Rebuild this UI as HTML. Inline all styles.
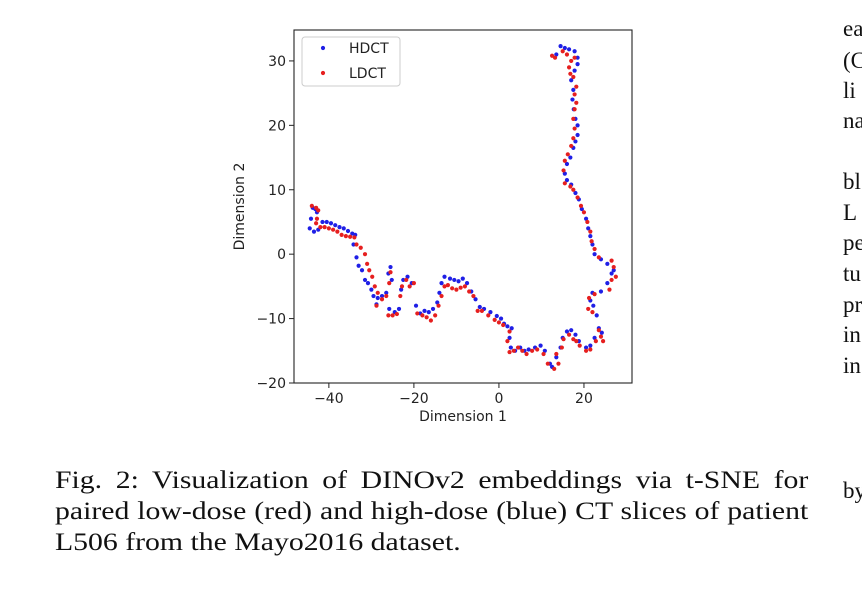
<!DOCTYPE html>
<html><head><meta charset="utf-8"><style>
body{margin:0;background:#fff;width:862px;height:598px;overflow:hidden;position:relative;font-family:"Liberation Serif",serif;}
.cap{position:absolute;left:55px;width:633px;font-size:25px;color:#111;text-align:justify;text-align-last:justify;white-space:nowrap;transform:scaleX(1.19);transform-origin:0 0;}
.cap.last{text-align-last:left;}
.rc{position:absolute;left:843px;font-size:23px;color:#111;white-space:nowrap;}
</style></head><body>
<svg id="chart" width="862" height="598" style="position:absolute;left:0;top:0" font-family="'DejaVu Sans','Liberation Sans',sans-serif"></svg>
<div class="cap" style="top:467px">Fig. 2: Visualization of DINOv2 embeddings via t-SNE for</div>
<div class="cap" style="top:498px">paired low-dose (red) and high-dose (blue) CT slices of patient</div>
<div class="cap last" style="top:529px">L506 from the Mayo2016 dataset.</div>
<div>
<div class="rc" style="top:16px">ea</div><div class="rc" style="top:48px">(C</div><div class="rc" style="top:78px">li</div><div class="rc" style="top:108px">na</div>
<div class="rc" style="top:169px">bl</div><div class="rc" style="top:200px">L</div><div class="rc" style="top:230px">pe</div><div class="rc" style="top:261px">tu</div><div class="rc" style="top:292px">pr</div><div class="rc" style="top:322px">in</div><div class="rc" style="top:353px">in</div><div class="rc" style="top:478px">by</div>
</div>
<script>
const xTicks=[-40,-20,0,20];
const yTicks=[30,20,10,0,-10,-20];
const hdctX=[-44.5,-44.2,-43.8,-43.2,-42.8,-43.5,-42.5,-41.5,-40.5,-39.5,-38.5,-37.5,-36.5,-35.5,-34.5,-33.8,-34.2,-33.5,-33.0,-32.2,-31.5,-30.8,-30.0,-29.5,-28.8,-28.5,-27.5,-26.5,-26.0,-25.5,-25.2,-25.8,-24.5,-23.5,-23.0,-22.5,-21.5,-20.5,-19.5,-18.5,-17.5,-16.5,-15.5,-14.5,-14.0,-13.5,-12.8,-11.5,-10.5,-9.5,-8.5,-7.5,-6.5,-5.5,-4.5,-3.5,-2.0,-0.5,0.5,1.2,2.0,3.0,2.5,2.8,3.8,5.0,6.0,7.0,8.5,9.8,10.8,12.0,12.5,13.5,14.5,15.0,16.0,17.0,18.0,18.8,20.5,21.5,22.5,23.5,24.2,23.0,22.2,21.5,22.0,24.0,25.5,26.5,27.0,25.5,24.0,22.5,22.0,21.5,21.0,20.5,19.5,18.8,18.0,17.0,16.0,15.5,16.0,16.8,17.5,18.0,18.5,18.5,18.0,17.6,17.3,17.5,17.0,17.8,18.5,18.5,17.8,16.5,15.5,14.5,13.5];
const hdctY=[4.0,5.5,7.2,7.0,6.5,3.5,3.8,5.0,5.0,4.8,4.5,4.2,4.0,3.6,3.2,3.0,1.5,-0.5,-1.8,-2.5,-4.0,-4.5,-5.5,-6.5,-7.8,-6.8,-6.5,-6.0,-3.0,-2.0,-4.0,-8.5,-9.0,-8.5,-5.5,-4.0,-3.5,-4.5,-8.0,-9.2,-8.8,-9.0,-8.5,-7.5,-6.0,-4.5,-3.5,-3.8,-4.0,-4.2,-3.8,-4.5,-5.8,-7.0,-8.2,-8.5,-9.0,-9.6,-10.0,-10.8,-11.2,-11.5,-13.0,-14.5,-15.0,-14.5,-15.0,-14.8,-14.5,-14.2,-15.0,-17.0,-17.5,-16.0,-14.5,-13.0,-12.0,-11.8,-12.5,-13.5,-14.5,-14.2,-13.0,-11.5,-12.2,-9.5,-8.0,-7.2,-6.0,-5.8,-4.5,-3.0,-2.5,-1.5,-0.8,0.0,1.5,2.8,4.0,5.5,7.0,8.5,9.5,10.8,11.5,12.5,14.0,15.0,16.5,17.5,18.5,20.0,21.0,22.5,24.0,25.5,27.0,28.5,29.5,30.5,31.5,31.8,32.0,32.3,31.0];
const ldctX=[-44.0,-43.0,-42.5,-42.8,-43.0,-42.0,-41.0,-40.0,-39.0,-38.0,-37.0,-36.0,-35.0,-34.0,-33.5,-32.5,-31.5,-31.0,-30.5,-29.8,-29.2,-28.5,-28.8,-27.5,-26.5,-25.8,-25.5,-26.0,-25.0,-24.0,-23.2,-22.8,-21.8,-21.0,-20.0,-19.2,-18.0,-17.0,-16.0,-15.0,-14.2,-13.5,-12.8,-12.0,-11.0,-10.0,-9.0,-8.0,-7.0,-6.0,-5.0,-4.0,-2.5,-1.0,0.0,1.0,2.5,2.0,2.5,3.5,4.5,5.5,6.5,7.8,9.0,10.5,11.5,13.0,14.0,13.5,14.8,15.2,16.5,17.5,18.2,19.0,20.5,21.5,22.8,24.0,24.5,23.5,22.0,21.0,21.2,22.5,26.0,26.5,27.5,27.0,26.5,23.5,22.5,21.8,21.5,20.8,20.0,19.3,18.5,17.5,16.8,15.5,15.2,15.5,16.2,17.0,17.5,17.8,17.5,17.8,18.2,17.8,18.2,17.5,16.8,16.5,17.0,17.8,16.0,15.0,13.2,12.5];
const ldctY=[7.5,7.2,6.8,5.5,4.8,4.2,4.2,4.0,3.8,3.5,3.0,2.8,2.7,2.6,1.5,1.0,0.0,-1.5,-2.5,-3.5,-5.0,-6.0,-8.0,-7.0,-6.5,-4.5,-2.8,-9.5,-9.5,-9.3,-6.5,-5.0,-4.0,-5.0,-4.5,-9.2,-9.5,-9.8,-10.3,-9.5,-8.0,-6.5,-5.0,-4.8,-5.3,-5.5,-5.2,-5.0,-5.8,-6.5,-8.8,-8.8,-9.5,-10.2,-10.6,-11.0,-12.0,-13.5,-15.2,-15.0,-14.5,-15.0,-15.5,-15.0,-14.8,-15.5,-17.0,-17.8,-17.0,-15.5,-14.5,-13.2,-12.5,-13.2,-13.5,-14.2,-15.0,-14.8,-13.5,-12.8,-13.5,-11.8,-9.0,-8.5,-6.8,-6.2,-5.5,-4.0,-3.5,-2.0,-1.0,-0.5,0.8,2.0,3.5,5.0,6.5,7.5,8.8,10.0,10.5,11.0,13.0,14.5,15.5,16.8,18.0,19.5,21.0,22.5,23.5,24.8,26.0,27.5,28.0,29.0,30.0,30.5,31.0,31.5,30.5,30.8];
const NS='http://www.w3.org/2000/svg';
const svg=document.getElementById('chart');
const L=294,R=632,T=30,B=383;
const xmin=-48.2,xmax=31.3,ymin=-20,ymax=34.8;
function sx(v){return L+(v-xmin)/(xmax-xmin)*(R-L);}
function sy(v){return B-(v-ymin)/(ymax-ymin)*(B-T);}
function mk(tag,attrs){const e=document.createElementNS(NS,tag);for(const k in attrs)e.setAttribute(k,attrs[k]);svg.appendChild(e);return e;}
let frame=mk('rect',{x:L,y:T,width:R-L,height:B-T,fill:'none',stroke:'#222','stroke-width':1.1});


xTicks.forEach(t=>{const x=sx(t);
 let l=mk('line',{x1:x,x2:x,y1:B,y2:B+5,stroke:'#222'});
 
 
 let tx=mk('text',{x:x,y:B+20,'font-size':14,'text-anchor':'middle',fill:'#222'});tx.textContent=(t<0?'\u2212'+(-t):t);
 
 });
yTicks.forEach(t=>{const y=sy(t);
 let l=mk('line',{x1:L-5,x2:L,y1:y,y2:y,stroke:'#222'});
 
 
 let tx=mk('text',{x:L-8,y:y+5,'font-size':14,'text-anchor':'end',fill:'#222'});tx.textContent=(t<0?'\u2212'+(-t):t);
 
 });
let xt=mk('text',{x:(L+R)/2,y:B+38,'font-size':14,'text-anchor':'middle',fill:'#222'});xt.textContent='Dimension 1';


let yt=mk('text',{x:0,y:0,'font-size':14,'text-anchor':'middle',fill:'#222',transform:'translate(244,'+((T+B)/2)+') rotate(-90)'});yt.textContent='Dimension 2';


hdctX.forEach((v,i)=>{let c=mk('circle',{cx:sx(v),cy:sy(hdctY[i]),r:2.1,fill:'#1f1fe6'});
 
 });
ldctX.forEach((v,i)=>{let c=mk('circle',{cx:sx(v),cy:sy(ldctY[i]),r:2.1,fill:'#e61f1f'});
 
 });
let lg=mk('rect',{x:302,y:37,width:98,height:49,rx:3,fill:'#fff','fill-opacity':0.85,stroke:'#ccc'});


[['HDCT','#1f1fe6',48],['LDCT','#e61f1f',73]].forEach(e=>{
 let c=mk('circle',{cx:323,cy:e[2],r:2.1,fill:e[1]});
 
 
 let t=mk('text',{x:349,y:e[2]+5,'font-size':14,fill:'#222'});t.textContent=e[0];
 
 });
</script>
</body></html>
